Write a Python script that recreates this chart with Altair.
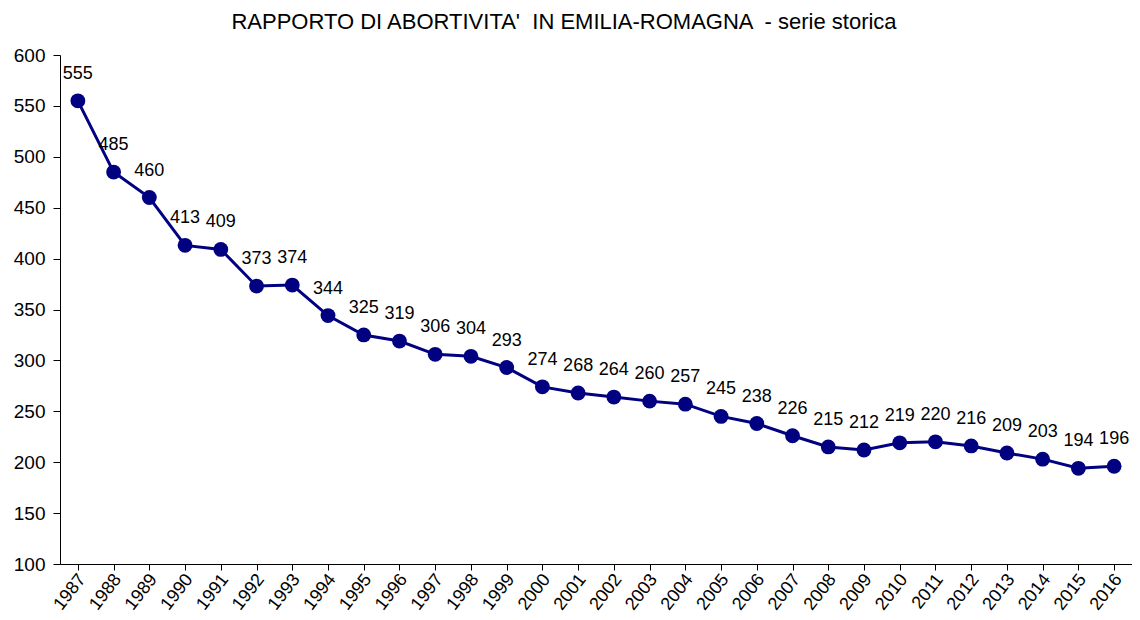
import altair as alt
import pandas as pd

years = [str(y) for y in range(1987, 2017)]
values = [555, 485, 460, 413, 409, 373, 374, 344, 325, 319, 306, 304, 293, 274, 268,
          264, 260, 257, 245, 238, 226, 215, 212, 219, 220, 216, 209, 203, 194, 196]

df = pd.DataFrame({"anno": years, "valore": values})

FONT = "Liberation Sans"
NAVY = "#000080"
TITLE = "RAPPORTO DI ABORTIVITA' \u00a0IN EMILIA-ROMAGNA \u00a0- serie storica"

x = alt.X("anno:N", sort=years, title=None,
          scale=alt.Scale(paddingInner=0, paddingOuter=0),
          axis=alt.Axis(labelAngle=-52, labelAlign="right", labelBaseline="middle",
                        labelFontSize=18, labelFont=FONT, labelColor="black",
                        labelPadding=6, labelOffset=4, tickSize=6, tickColor="black",
                        domainColor="black", bandPosition=0, grid=False,
                        labelOverlap=False))
y = alt.Y("valore:Q", title=None,
          scale=alt.Scale(domain=[100, 600], nice=False, zero=False),
          axis=alt.Axis(values=list(range(100, 601, 50)), labelFontSize=19, labelFont=FONT,
                        labelColor="black", tickSize=7, tickColor="black",
                        domainColor="black", labelPadding=8, grid=False))

base = alt.Chart(df).encode(x=x, y=y)

line = base.mark_line(color=NAVY, strokeWidth=3)
points = base.mark_circle(color=NAVY, size=220, opacity=1)
labels = base.mark_text(dy=-22, fontSize=18, font=FONT, color="black",
                        baseline="alphabetic").encode(text="valore:Q")

chart = (line + points + labels).properties(
    width=1072, height=509,
    autosize=alt.AutoSizeParams(type="none"),
    padding={"left": 52, "top": 47, "right": 0, "bottom": 53},
    title=alt.TitleParams(TITLE,
                          font=FONT, fontSize=22, fontWeight="normal", color="black",
                          anchor="middle", dx=-32, offset=12),
    background="white",
).configure_view(stroke=None)

chart.save("out.html", embed_options={"renderer": "svg", "actions": False})
